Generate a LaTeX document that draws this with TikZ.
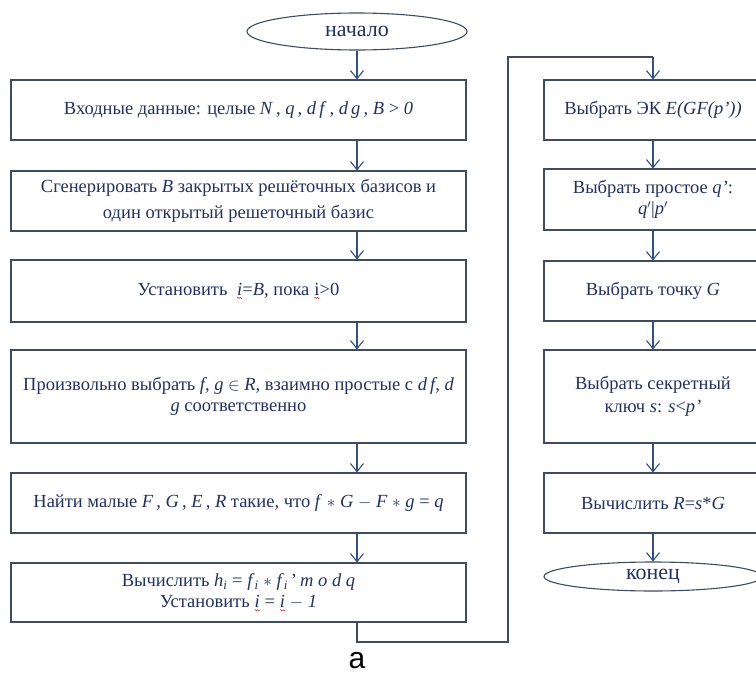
\documentclass[tikz,border=0pt]{standalone}
\usepackage{fontspec}
\setmainfont{Liberation Serif}
\newfontfamily\capfont{Liberation Sans}
\usetikzlibrary{arrows.meta,shapes.geometric,decorations.pathmorphing}

\definecolor{boxline}{HTML}{3F4B5E}
\definecolor{arrowline}{HTML}{34507F}
\definecolor{ink}{HTML}{22315E}
\definecolor{wavy}{HTML}{D23A2A}

% red wavy underline under a symbol
\newcommand\spell[1]{\tikz[baseline=(w.base)]{%
  \node[shape=rectangle, draw=none, minimum width=0pt, minimum height=0pt,
        inner sep=0pt, outer sep=0pt, align=left](w){#1};%
  \draw[wavy, line width=0.5pt, decorate,
        decoration={snake, amplitude=0.7pt, segment length=2.4pt}]
    ([yshift=-2.5pt]w.south west) -- ([yshift=-2.5pt]w.south east);}}

\tikzset{
  stepbox/.style={draw=boxline, line width=1.1pt, rectangle, align=center,
    text=ink, inner sep=0pt, font=\fontsize{18.5}{21}\selectfont},
  leftbox/.style={stepbox, minimum width=455pt},
  rightbox/.style={stepbox, minimum width=218pt},
  term/.style={draw=boxline, ellipse, line width=1.1pt, text=ink,
    inner sep=0pt, font=\fontsize{22}{24}\selectfont},
  arr/.style={draw=arrowline, line width=1.1pt,
    -{Straight Barb[length=8pt,width=13pt,line width=1.1pt]}},
  link/.style={draw=boxline, line width=1.1pt},
}

\begin{document}
\begin{tikzpicture}[x=1pt,y=-1pt]
\useasboundingbox (0,0) rectangle (756,675);
\clip (0,0) rectangle (756,675);

% left column
\node[term, minimum width=220pt, minimum height=37pt] (start) at (357,31.5) {начало};
\node[leftbox, minimum height=60pt] (b1) at (238.5,110)
  {Входные данные: целые \textit{N}\,, \textit{q}\,, \textit{d\,f}\,, \textit{d\,g}\,, \textit{B} > \textit{0}};
\node[leftbox, minimum height=60pt] (b2) at (238.5,201)
  {Сгенерировать \textit{B} закрытых решёточных базисов и\\[5pt]один открытый решеточный базис};
\node[leftbox, minimum height=62pt] (b3) at (238.5,291)
  {Установить \ \spell{\textit{i}}=\textit{B}, пока \spell{i}>0};
\node[leftbox, minimum height=93pt] (b4) at (238.5,396.5)
  {Произвольно выбрать \textit{f, g} $\in$ \textit{R}, взаимно простые с \textit{d\,f, d}\\\textit{g} соответственно};
\node[leftbox, minimum height=60pt] (b5) at (238.5,503)
  {Найти малые \textit{F}\,, \textit{G}\,, \textit{E}\,, \textit{R} такие, что \textit{f} $\ast$ \textit{G} $-$ \textit{F} $\ast$ \textit{g} = \textit{q}};
\node[leftbox, minimum height=59pt] (b6) at (238.5,592.5)
  {Вычислить \textit{h}\textsubscript{\textit{i}} = \textit{f}\textsubscript{\textit{i}} $\ast$ \textit{f}\textsubscript{\textit{i}}\,'\,\textit{m o d q}\\Установить \spell{\textit{i}} = \spell{\textit{i}} $-$ \textit{1}};

% right column
\node[rightbox, minimum height=60pt] (b7) at (653,110)
  {Выбрать ЭК \textit{E(GF(p'))}};
\node[rightbox, minimum height=61pt] (b8) at (653,199.5)
  {Выбрать простое \textit{q'}:\\\textit{q}$'$|\textit{p}$'$};
\node[rightbox, minimum height=60pt] (b9) at (653,291)
  {Выбрать точку \textit{G}};
\node[rightbox, minimum height=93pt] (b10) at (653,396.5)
  {Выбрать секретный\\[2pt]ключ \textit{s}: \textit{s}<\textit{p'}};
\node[rightbox, minimum height=60pt] (b11) at (653,503)
  {Вычислить \textit{R}=\textit{s}*\textit{G}};
\node[term, minimum width=218pt, minimum height=29pt] (stop) at (653,576.5) {конец};

% caption
\node[font=\capfont\fontsize{30}{32}\selectfont, text=black] (cap) at (357,661) {а};

% left column arrows
\draw[arr] (start.south) -- (b1.north -| start.south);
\foreach \a/\b in {b1/b2, b2/b3, b3/b4, b4/b5, b5/b6}
  \draw[arr] (\a.south -| start.south) -- (\b.north -| start.south);

% jump from the left column to the right one
\coordinate (turnA) at (357,642);
\coordinate (turnB) at (508,642);
\coordinate (turnC) at (508,57);
\coordinate (turnD) at (653,57);
\draw[link] (b6.south -| start.south) -- (turnA) -- (turnB) -- (turnC) -- (turnD);
\draw[arr] (turnD) -- (b7.north);

% right column arrows
\foreach \a/\b in {b7/b8, b8/b9, b9/b10, b10/b11, b11/stop}
  \draw[arr] (\a.south) -- (\b.north);
\end{tikzpicture}
\end{document}
